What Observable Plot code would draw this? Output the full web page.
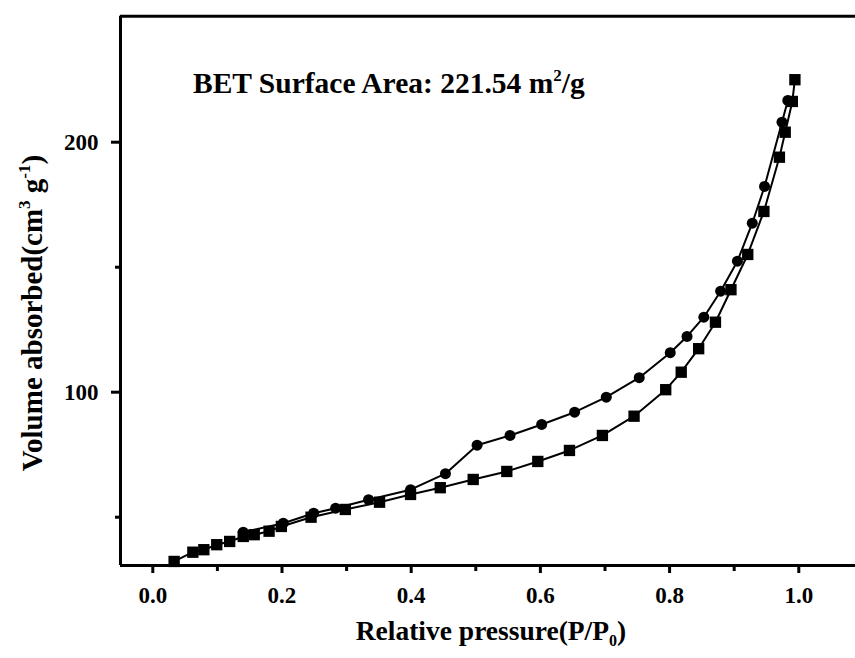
<!DOCTYPE html>
<html>
<head>
<meta charset="utf-8">
<script src="https://cdn.jsdelivr.net/npm/d3@7"></script>
<script src="https://cdn.jsdelivr.net/npm/@observablehq/plot@0.6"></script>
<style>
  html, body { margin: 0; padding: 0; background: #fff; }
  #chart svg { display: block; }
  #chart svg text { font-family: "Liberation Serif", "DejaVu Serif", serif !important; }
</style>
</head>
<body>
<div id="chart"></div>
<script>
// Adsorption branch (squares)
const adsP = [0.033, 0.062, 0.079, 0.099, 0.119, 0.140, 0.157, 0.180, 0.199, 0.245, 0.298, 0.351, 0.399, 0.445, 0.496, 0.548, 0.596, 0.645, 0.696, 0.745, 0.794, 0.818, 0.845, 0.871, 0.895, 0.921, 0.946, 0.970, 0.979, 0.990, 0.994];
const adsV = [32.3, 36.0, 37.0, 39.0, 40.3, 42.3, 43.0, 44.4, 46.3, 50.0, 53.1, 56.0, 59.1, 61.8, 65.1, 68.3, 72.3, 76.7, 82.7, 90.4, 101.0, 108.0, 117.4, 128.0, 141.0, 155.1, 172.3, 194.0, 204.0, 216.3, 225.0];
// Desorption branch (circles)
const desP = [0.983, 0.974, 0.947, 0.928, 0.905, 0.879, 0.853, 0.827, 0.801, 0.753, 0.702, 0.653, 0.602, 0.553, 0.502, 0.453, 0.399, 0.334, 0.283, 0.249, 0.202, 0.140];
const desV = [216.7, 208.0, 182.3, 167.6, 152.4, 140.4, 130.0, 122.3, 115.8, 105.8, 98.0, 92.0, 87.1, 82.7, 78.8, 67.4, 61.0, 57.0, 53.6, 51.6, 47.6, 44.0];

const xMajorTicks = [0.0, 0.2, 0.4, 0.6, 0.8, 1.0];
const xMinorTicks = [0.1, 0.3, 0.5, 0.7, 0.9];
const yMajorTicks = [100, 200];
const yMinorTicks = [50, 150];
const xDomain = [-0.05, 1.0878];
const yDomain = [30.68, 250.4];

const ads = adsP.map((p, i) => ({p, v: adsV[i]}));
const des = desP.map((p, i) => ({p, v: desV[i]}));

const font = "Liberation Serif, DejaVu Serif, serif";

const plot = Plot.plot({
  width: 855,
  height: 658,
  marginLeft: 120,
  marginRight: 0,
  marginTop: 15.7,
  marginBottom: 93,
  style: {fontFamily: font, fontWeight: "bold", fontSize: "23px", color: "#000", background: "#fff"},
  x: {domain: xDomain},
  y: {domain: yDomain},
  marks: [
    Plot.axisX({ticks: xMajorTicks, tickSize: 8, tickPadding: 13, tickFormat: d => d.toFixed(1), label: null, strokeWidth: 3, fontSize: 23, fontWeight: "bold"}),
    Plot.axisX({ticks: xMinorTicks, tickSize: 6, text: null, label: null, strokeWidth: 3}),
    Plot.axisY({ticks: yMajorTicks, tickSize: 9, tickPadding: 13, tickFormat: d => String(d), label: null, strokeWidth: 3, fontSize: 23, fontWeight: "bold"}),
    Plot.axisY({ticks: yMinorTicks, tickSize: 5, text: null, label: null, strokeWidth: 3}),
    Plot.ruleY([yDomain[0], yDomain[1]], {stroke: "#000", strokeWidth: 3}),
    Plot.ruleX([xDomain[0]], {stroke: "#000", strokeWidth: 3}),
    Plot.line(des, {x: "p", y: "v", stroke: "#000", strokeWidth: 2}),
    Plot.line(ads, {x: "p", y: "v", stroke: "#000", strokeWidth: 2}),
    Plot.dot(des, {x: "p", y: "v", symbol: "circle", r: 5.5, fill: "#000", stroke: "none"}),
    Plot.dot(ads, {x: "p", y: "v", symbol: "square", r: 6.4, fill: "#000", stroke: "none"})
  ]
});

document.getElementById("chart").appendChild(plot);

const svg = d3.select(plot);
// X axis title
const xt = svg.append("text")
  .attr("x", 491).attr("y", 640)
  .attr("text-anchor", "middle")
  .style("font-weight", "bold").style("font-size", "27.5px").attr("fill", "#000");
xt.append("tspan").text("Relative pressure(P/P");
xt.append("tspan").attr("dy", 6).style("font-size", "16px").text("0");
xt.append("tspan").attr("dy", -6).text(")");

// Y axis title
const yt = svg.append("text")
  .attr("transform", "translate(42,313) rotate(-90)")
  .attr("text-anchor", "middle")
  .style("font-weight", "bold").style("font-size", "29px").attr("fill", "#000");
yt.append("tspan").text("Volume absorbed(cm");
yt.append("tspan").attr("dy", -12).style("font-size", "17px").text("3");
yt.append("tspan").attr("dy", 12).text(" g");
yt.append("tspan").attr("dy", -12).style("font-size", "17px").text("-1");
yt.append("tspan").attr("dy", 12).text(")");

// Annotation
const ann = svg.append("text")
  .attr("x", 193).attr("y", 92.5)
  .attr("text-anchor", "start")
  .style("font-weight", "bold").style("font-size", "29.5px").attr("fill", "#000");
ann.append("tspan").text("BET Surface Area: 221.54 m");
ann.append("tspan").attr("dy", -12).style("font-size", "17px").text("2");
ann.append("tspan").attr("dy", 12).text("/g");
</script>
</body>
</html>
